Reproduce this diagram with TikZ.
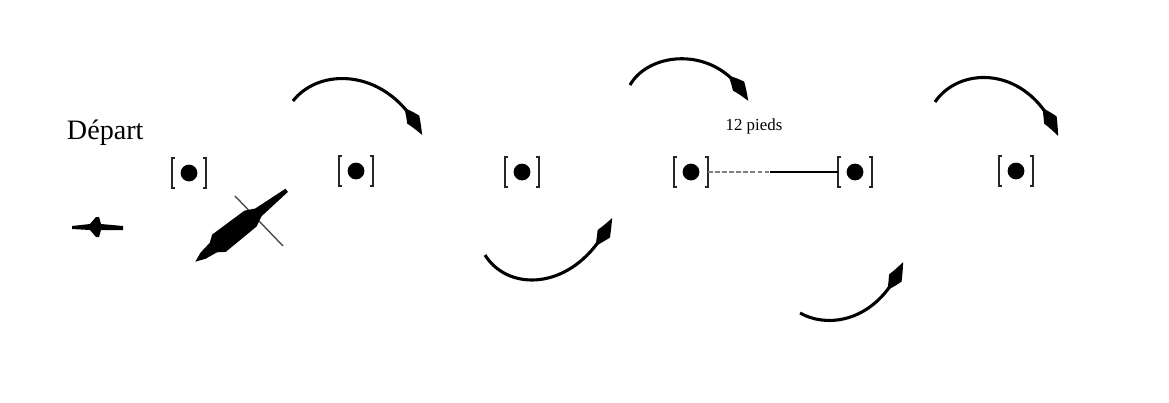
\documentclass[tikz,border=0pt]{standalone}
\usepackage{fontspec}
\setmainfont{Liberation Serif}
\usetikzlibrary{arrows.meta, bending}
\begin{document}
\begin{tikzpicture}[x=0.025cm, y=-0.025cm,
  pylone/.style={minimum width=0.85cm, minimum height=0.75cm, inner sep=0pt},
  crochet/.style={line width=1.6pt, black!85},
  virage/.style={line width=2.2pt, -{Kite[length=0.85cm, width=0.36cm, inset=0.4cm, bend]}},
  avion/.style={fill=black}
]
\useasboundingbox (0,0) rectangle (1169,402);

\node[font=\fontsize{20}{24}\selectfont, anchor=west] (depart) at (62,133) {Départ};
\node[font=\fontsize{12}{14}\selectfont] (dist) at (754,126) {12 pieds};

% pylones
\foreach \i/\x/\y in {1/189/173, 2/356/171, 3/522/172, 4/691/172, 5/855/172, 6/1016/171} {
  \node[pylone] (p\i) at (\x,\y) {};
  \fill (p\i) circle (0.21cm);
  \draw[crochet] ([xshift=0.08cm]p\i.north west) -- (p\i.north west) -- (p\i.south west) -- ++(0.08cm,0);
  \draw[crochet] ([xshift=-0.08cm]p\i.north east) -- (p\i.north east) -- (p\i.south east) -- ++(-0.08cm,0);
}

% 12 pieds
\coordinate (m) at (770,172);
\draw[densely dashed, gray, line width=1pt] (p4.east) -- (m);
\draw[line width=1.4pt] (m) -- (p5.west);

% virages
\coordinate (v1) at (293,101);
\coordinate (v1b) at (422,135);
\coordinate (v2) at (485,255);
\coordinate (v2b) at (612,218);
\coordinate (v3) at (630,85);
\coordinate (v3b) at (748,101);
\coordinate (v4) at (800,313);
\coordinate (v4b) at (903,262);
\coordinate (v5) at (935,102);
\coordinate (v5b) at (1058,136);
\draw[virage] (v1) .. controls (320,66) and (390,68) .. (v1b);
\draw[virage] (v2) .. controls (510,295) and (580,290) .. (v2b);
\draw[virage] (v3) .. controls (650,50) and (720,45) .. (v3b);
\draw[virage] (v4) .. controls (830,330) and (880,320) .. (v4b);
\draw[virage] (v5) .. controls (960,65) and (1030,65) .. (v5b);

% avions
\fill[avion] (72,226) -- (90,224) -- (96,217) -- (99,217) -- (101,224) -- (123,226)
  -- (123,230) -- (101,230) -- (99,237) -- (96,237) -- (90,230) -- (72,229) -- cycle;
\draw[black!70, line width=1pt] (235,196) -- (283,246);
\begin{scope}[shift={(241,226)}, rotate=38]
  \fill[avion] (-58,0) -- (-48,4) -- (-35,6) -- (-28,11) -- (12,10) -- (22,5) -- (58,2)
    -- (58,-2) -- (22,-5) -- (12,-10) -- (-28,-11) -- (-35,-6) -- (-48,-4) -- cycle;
\end{scope}
\end{tikzpicture}
\end{document}
